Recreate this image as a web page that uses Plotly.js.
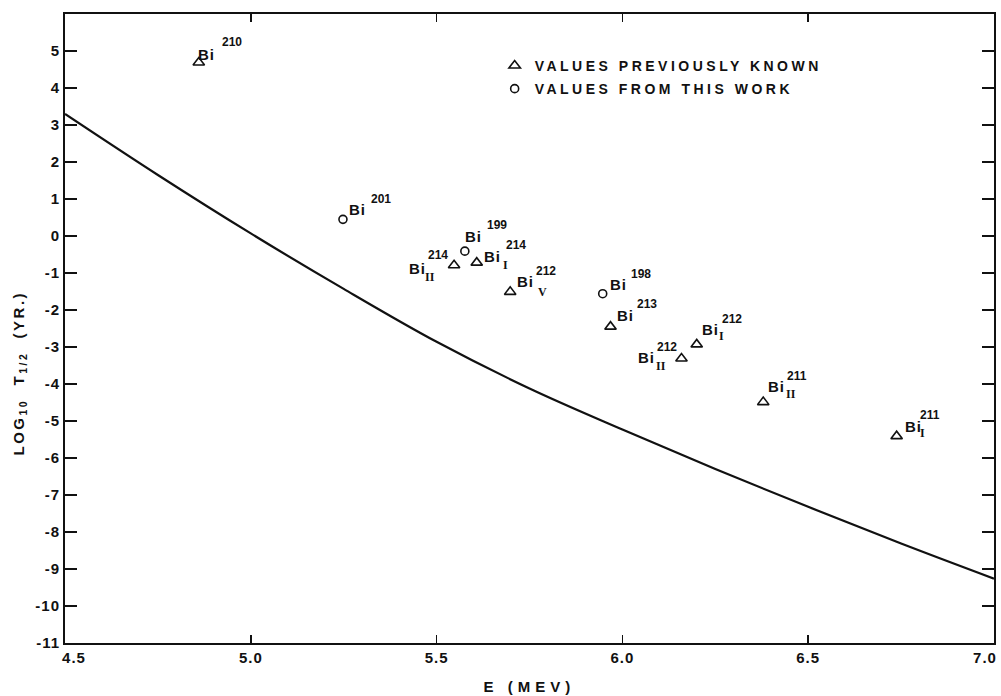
<!DOCTYPE html>
<html>
<head>
<meta charset="utf-8">
<script src="https://cdn.plot.ly/plotly-3.0.1.min.js"></script>
<style>
  body { margin: 0; background: #fff; }
  #chart { width: 1001px; height: 696px; }
  .legendtext { letter-spacing: 3.5px; }
  .xtick text, .ytick text { letter-spacing: 1px; }
</style>
</head>
<body>
<div id="chart"></div>
<script>
// ---- data ----
// theoretical curve: log10 T1/2 (yr) vs E (MeV)
const curveE = [4.5, 4.75, 5.0, 5.25, 5.5, 5.75, 6.0, 6.25, 6.5, 6.75, 7.0];
const curveLogT = [3.3, 1.65, 0.07, -1.43, -2.86, -4.12, -5.23, -6.3, -7.32, -8.31, -9.26];

// values previously known (triangles)
const knownE = [4.86, 5.547, 5.608, 5.698, 5.968, 6.159, 6.200, 6.379, 6.738];
const knownLogT = [4.69, -0.79, -0.72, -1.51, -2.45, -3.31, -2.93, -4.49, -5.41];
const knownMass = ['210', '214', '214', '212', '213', '212', '212', '211', '211'];
const knownState = ['', 'II', 'I', 'V', '', 'II', 'I', 'II', 'I'];

// values from this work (circles)
const workE = [5.248, 5.576, 5.947];
const workLogT = [0.45, -0.41, -1.56];
const workMass = ['201', '199', '198'];
const workState = ['', '', ''];

// axis ticks
const xTicks = [4.5, 5.0, 5.5, 6.0, 6.5, 7.0];
const xTickLabels = ['4.5', '5.0', '5.5', '6.0', '6.5', '7.0'];
const yTicks = [-11, -10, -9, -8, -7, -6, -5, -4, -3, -2, -1, 0, 1, 2, 3, 4, 5];
const yTickLabels = ['-11', '-10', '-9', '-8', '-7', '-6', '-5', '-4', '-3', '-2', '-1', '0', '1', '2', '3', '4', '5'];

// ---- label placement (pixel offsets from the marker: [biDx, biDy, supDx, supDy, subDx, subDy], dy down) ----
const knownPlace = [
  [8, -8, 33, -20, 0, 0],
  [-37, 3, -16.5, -10, -24, 12],
  [16, -6, 39, -17.6, 29, 2],
  [15.5, -10.4, 35.5, -21, 32, 0],
  [15, -11.3, 36, -22.3, 0, 0],
  [-35, -1, -14.2, -11.6, -20.4, 7.4],
  [13.3, -15, 35, -25, 25, -8.3],
  [13.4, -15.4, 34, -26, 27.7, -7.7],
  [16.6, -9.4, 33.3, -20.7, 26, -3.4]
];
const workPlace = [
  [15, -10, 38, -20, 0, 0],
  [9, -15, 32, -26, 0, 0],
  [16, -9.3, 38, -19.3, 0, 0]
];

const FONT = 'Liberation Sans, DejaVu Sans, sans-serif';
const annotations = [];
function addLabels(xs, ys, masses, states, places) {
  for (let i = 0; i < xs.length; i++) {
    const p = places[i];
    annotations.push({x: xs[i], y: ys[i], xref: 'x', yref: 'y', showarrow: false,
      xshift: p[0], yshift: -p[1], xanchor: 'center', yanchor: 'middle', text: 'Bi',
      font: {family: FONT, size: 15, weight: 'bold', color: '#111'}});
    annotations.push({x: xs[i], y: ys[i], xref: 'x', yref: 'y', showarrow: false,
      xshift: p[2], yshift: -p[3], xanchor: 'center', yanchor: 'middle', text: masses[i],
      font: {family: FONT, size: 12, weight: 'bold', color: '#111'}});
    if (states[i]) {
      annotations.push({x: xs[i], y: ys[i], xref: 'x', yref: 'y', showarrow: false,
        xshift: p[4], yshift: -p[5], xanchor: 'center', yanchor: 'middle', text: states[i],
        font: {family: 'Liberation Serif, DejaVu Serif, serif', size: 12, weight: 'bold', color: '#111'}});
    }
  }
}
addLabels(knownE, knownLogT, knownMass, knownState, knownPlace);
addLabels(workE, workLogT, workMass, workState, workPlace);

// axis titles
annotations.push({xref: 'paper', yref: 'paper', x: 0.5, y: -0.069, showarrow: false,
  xanchor: 'center', yanchor: 'middle', text: 'E (MEV)',
  font: {family: FONT, size: 15, weight: 'bold', color: '#111'}});
annotations.push({xref: 'paper', yref: 'paper', x: -0.049, y: 0.43, showarrow: false,
  xanchor: 'center', yanchor: 'middle', textangle: -90,
  text: 'LOG<sub>10</sub>  T<sub>1/2</sub>  (YR.)',
  font: {family: FONT, size: 15, weight: 'bold', color: '#111'}});

const traces = [
  {x: curveE, y: curveLogT, type: 'scatter', mode: 'lines', line: {color: '#111', width: 2.2, shape: 'spline', smoothing: 1},
   showlegend: false, hoverinfo: 'skip'},
  {x: knownE, y: knownLogT, type: 'scatter', mode: 'markers', name: 'VALUES PREVIOUSLY KNOWN', legendgroup: 'a',
   marker: {symbol: 'triangle-up-open', size: 10, color: '#111', line: {width: 1.6, color: '#111'}}},
  {x: workE, y: workLogT, type: 'scatter', mode: 'markers', name: 'VALUES FROM THIS WORK', legendgroup: 'b',
   marker: {symbol: 'circle-open', size: 8, color: '#111', line: {width: 1.6, color: '#111'}}}
];

const axisCommon = {
  showgrid: false, zeroline: false, showline: true, linecolor: '#111', linewidth: 2,
  mirror: 'ticks', ticks: 'inside', tickcolor: '#111', tickwidth: 1.6,
  ticklabeloverflow: 'allow',
  tickfont: {family: FONT, size: 15, weight: 'bold', color: '#111'}
};

const layout = {
  width: 1001, height: 696,
  margin: {l: 65, r: 7, t: 14, b: 53},
  paper_bgcolor: '#fff', plot_bgcolor: '#fff',
  xaxis: Object.assign({}, axisCommon, {range: [4.5, 7.0], tickvals: xTicks, ticktext: xTickLabels, ticklen: 8, automargin: false}),
  yaxis: Object.assign({}, axisCommon, {range: [-11, 6], tickvals: yTicks, ticktext: yTickLabels, ticklen: 12, automargin: false}),
  showlegend: true,
  legend: {x: 0.4625, y: 0.943, xanchor: 'left', yanchor: 'top', bgcolor: 'rgba(0,0,0,0)',
    traceorder: 'grouped', tracegroupgap: 2,
    font: {family: FONT, size: 14, weight: 'bold', color: '#111'}},
  annotations: annotations
};

Plotly.newPlot('chart', traces, layout, {displayModeBar: false, staticPlot: true}).then(function () {
  document.querySelectorAll('.annotation-text').forEach(function (t) {
    const s = t.textContent;
    if (s === 'E (MEV)') t.style.letterSpacing = '5px';
    else if (s.indexOf('LOG') === 0) t.style.letterSpacing = '2.5px';
    else if (s === 'Bi') t.style.letterSpacing = '1px';
  });
  // end labels sit inside the frame corners, as in the original lettering
  document.querySelectorAll('.xtick text').forEach(function (t) {
    if (t.textContent === xTickLabels[0]) t.setAttribute('dx', '9');
    if (t.textContent === xTickLabels[xTickLabels.length - 1]) t.setAttribute('dx', '-9');
  });
});
</script>
</body>
</html>
